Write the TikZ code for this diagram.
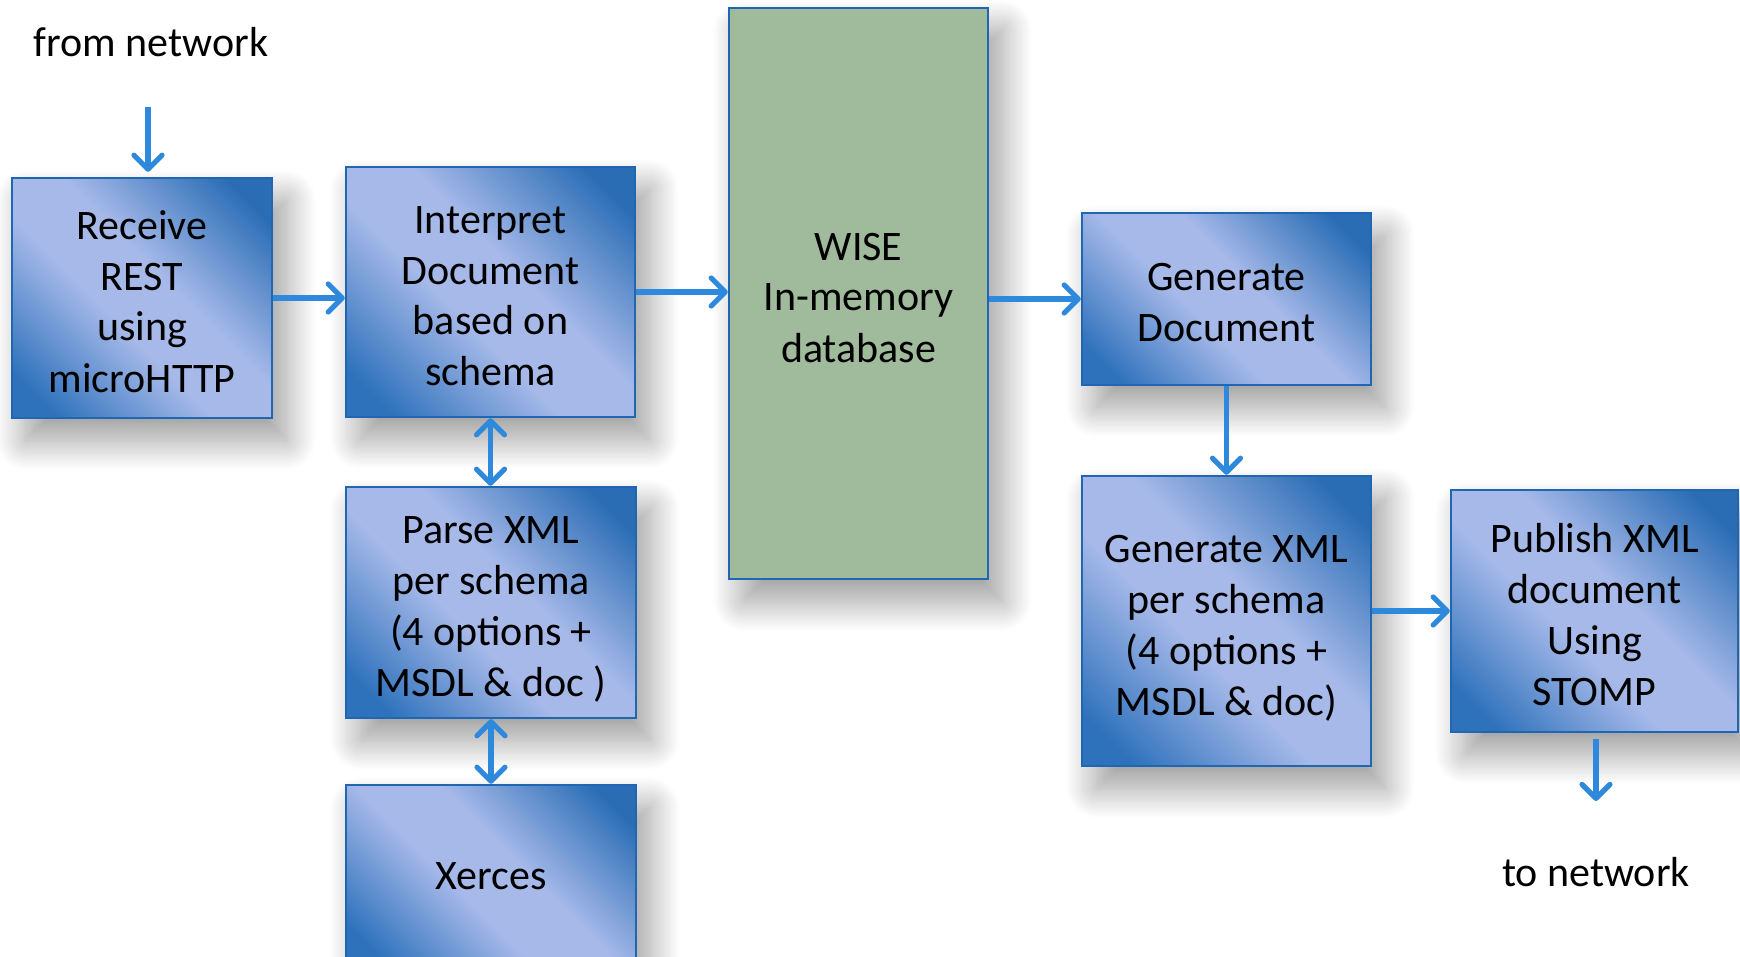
\documentclass[tikz,border=0pt]{standalone}
\usepackage{fontspec}
\setmainfont{Carlito}
\usetikzlibrary{arrows.meta,shadows.blur}
\definecolor{bdark}{HTML}{2A6DB5}
\definecolor{bdarkb}{HTML}{2F72BC}
\definecolor{blight}{HTML}{A6B9E9}
\definecolor{bborder}{HTML}{1F66B3}
\definecolor{wisegreen}{HTML}{9FBB9C}
\definecolor{arrowc}{HTML}{2E89DC}
\pgfdeclarehorizontalshading{boxshade}{100bp}{color(0bp)=(bdarkb); color(21bp)=(bdarkb); color(43bp)=(blight); color(56bp)=(blight); color(79bp)=(bdark); color(100bp)=(bdark)}
\newcommand{\boxfont}{\fontsize{21}{25.5}\selectfont}
\newcommand{\tstrut}{\rule{0pt}{23pt}}
\newcommand{\sstrut}{\rule{0pt}{19pt}}
\newcommand{\bstrut}{\rule[-5.5pt]{0pt}{0pt}}
\begin{document}
\begin{tikzpicture}[x=0.5pt,y=-0.5pt,
  shad/.style={blur shadow={shadow xshift=7pt, shadow yshift=-11pt, shadow blur radius=15pt, shadow blur steps=25, shadow opacity=40}},
  bluebox/.style={shad, draw=bborder, line width=1.2pt, shade, shading=boxshade, shading angle=45, align=center, inner sep=0pt, font=\boxfont, text=black},
  greenbox/.style={shad, draw=bborder, line width=1.2pt, fill=wisegreen, align=center, inner sep=0pt, font=\boxfont, text=black},
  lbl/.style={font=\boxfont, text=black, inner sep=0pt},
  arr/.style={draw=arrowc, line width=2.6pt, -{Straight Barb[length=7pt,width=14pt,round]}},
  darr/.style={draw=arrowc, line width=2.6pt, {Straight Barb[length=7pt,width=14pt,round]}-{Straight Barb[length=7pt,width=14pt,round]}}
]
\useasboundingbox (0,0) rectangle (1740,957);
\clip (0,0) rectangle (1740,957);
% boxes
\node[bluebox, minimum width=130pt, minimum height=120pt] (rec) at (142,298) {\tstrut Receive\\REST\\using\\microHTTP\bstrut};
\node[bluebox, minimum width=144.5pt, minimum height=125pt] (int) at (490.5,292) {\tstrut Interpret\\Document\\based on\\schema\bstrut};
\node[greenbox, minimum width=129.5pt, minimum height=285.5pt] (wise) at (858.5,293.5) {\tstrut WISE\\In-memory\\database\bstrut};
\node[bluebox, minimum width=144.5pt, minimum height=86pt] (gen) at (1226.5,299) {\tstrut Generate\\Document\bstrut};
\node[bluebox, minimum width=144.5pt, minimum height=145pt] (genx) at (1226.5,621) {\tstrut Generate XML\\per schema\\(4 options +\\MSDL \& doc)\bstrut};
\node[bluebox, minimum width=143.5pt, minimum height=121pt] (pub) at (1594.5,611) {\tstrut Publish XML\\document\\Using\\STOMP\bstrut};
\node[bluebox, minimum width=145pt, minimum height=115.5pt] (parse) at (491,602.5) {\tstrut Parse XML\\per schema\\(4 options +\\MSDL \& doc )\bstrut};
\node[bluebox, minimum width=145pt, minimum height=91pt] (xer) at (491,876) {\sstrut Xerces\bstrut};
% labels
\node[lbl] (fromnet) at (151,42) {from network};
\node[lbl] (tonet) at (1596,872) {to network};
\coordinate (fn) at (148,107);
\coordinate (tn) at (1596,801);
% connectors
\draw[arr, shorten >=2.5pt] (fn) -- (fn |- rec.north);
\draw[arr] (rec.east) -- (rec.east -| int.west);
\draw[arr] (int.east) -- (int.east -| wise.west);
\draw[arr] (gen.west -| wise.east) -- (gen.west);
\draw[arr] (gen.south) -- (genx.north);
\draw[arr] (pub.west -| genx.east) -- (pub.west);
\draw[arr, shorten <=3pt] (pub.south -| tn) -- (tn);
\draw[darr] (int.south) -- (int.south |- parse.north);
\draw[darr] (parse.south) -- (xer.north);
\end{tikzpicture}
\end{document}
